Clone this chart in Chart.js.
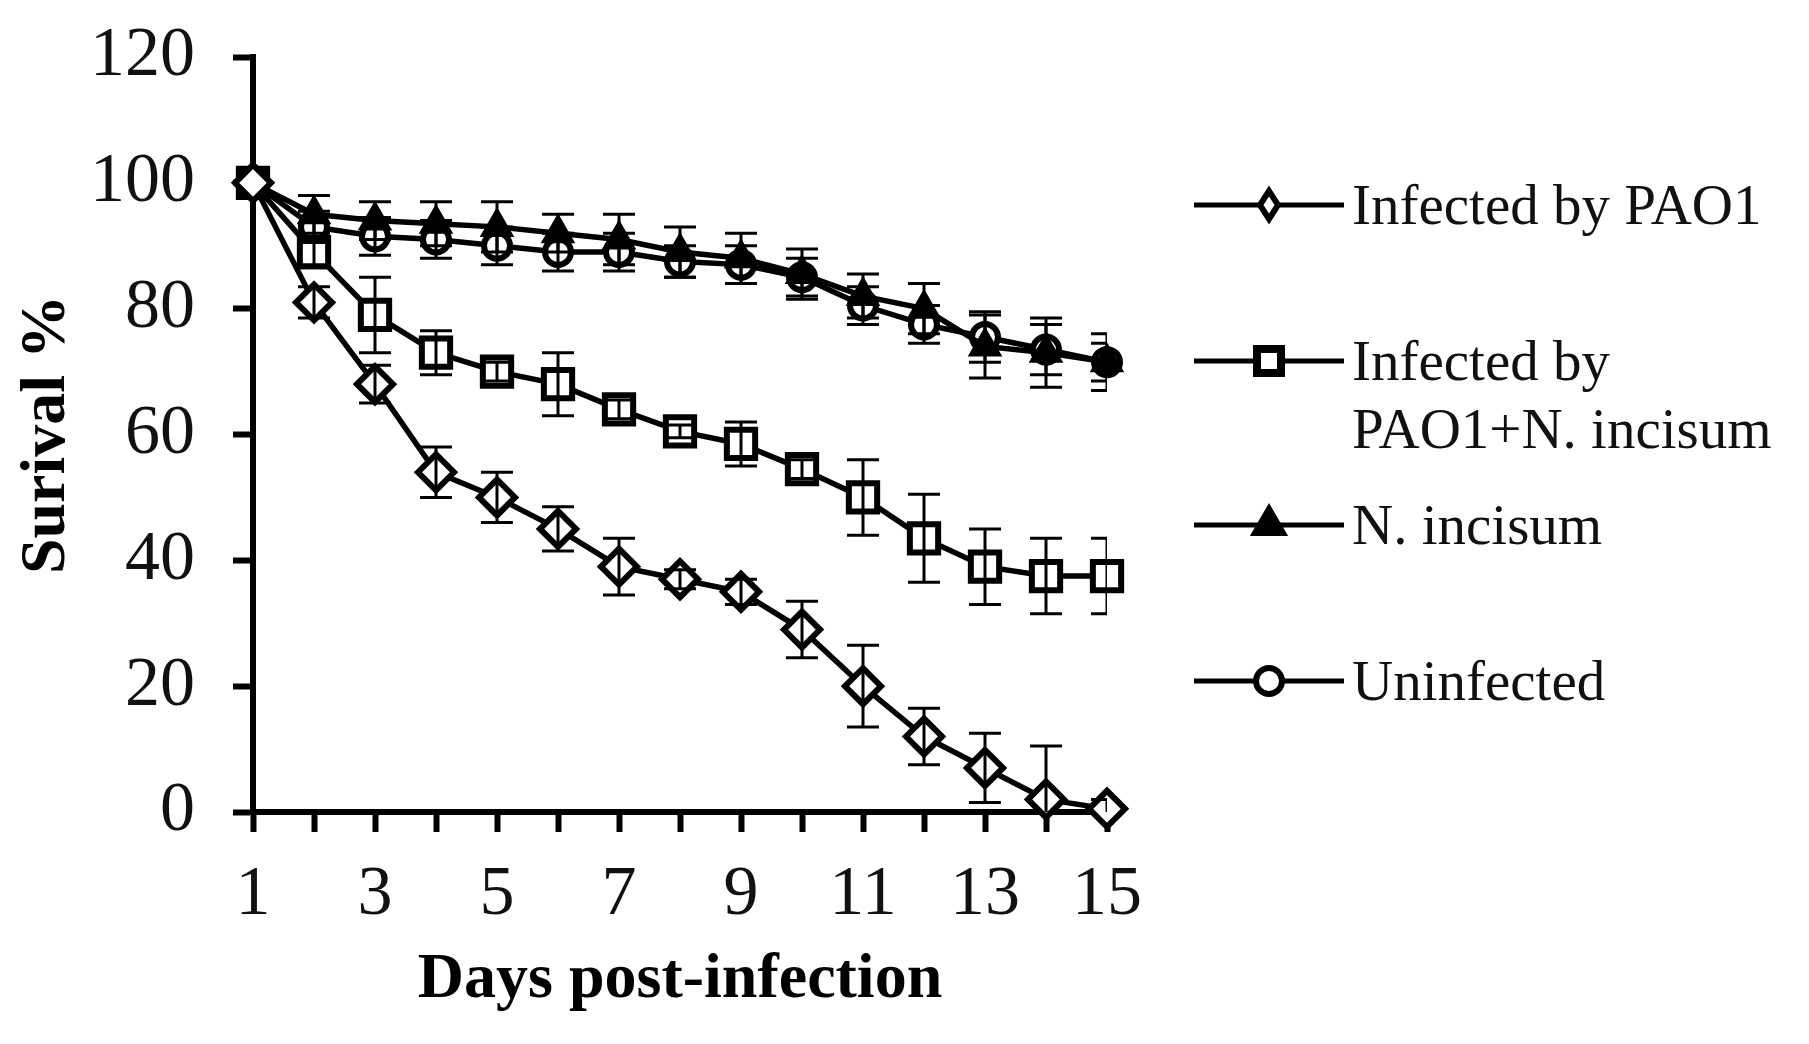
<!DOCTYPE html>
<html>
<head>
<meta charset="utf-8">
<title>Survival % - days post-infection</title>
<script src="https://cdn.jsdelivr.net/npm/chart.js@4.4.1/dist/chart.umd.min.js"></script>
<style>
  html, body { margin: 0; padding: 0; background: #fff; }
  #wrap { width: 1809px; height: 1044px; position: relative; }
</style>
</head>
<body>
<div id="wrap"><canvas id="survivalChart"></canvas></div>
<script>
// ---- data ----
const days = [1, 2, 3, 4, 5, 6, 7, 8, 9, 10, 11, 12, 13, 14, 15];

const pao1      = [100, 81, 68, 54, 50, 45, 39, 37, 35, 29, 20, 12, 7, 2, 0.5];
const pao1Err   = [0, 2.5, 3, 4, 4, 3.5, 4.5, 1.5, 2, 4.5, 6.5, 4.5, 5.5, 8.5, 1.5];

const pao1Ni    = [100, 89, 79, 73, 70, 68, 64, 60.5, 58.5, 54.5, 50, 43.5, 39, 37.5, 37.5];
const pao1NiErr = [0, 2.5, 6, 3.5, 1.5, 5, 1.5, 1, 3.5, 1.5, 6, 7, 6, 6, 6];

const nIncisum    = [100, 95, 94, 93.5, 93, 92, 91, 89, 88, 85.5, 82, 80, 74, 73, 71.5];
const nIncisumErr = [0, 3, 3, 3.5, 4, 3, 4, 4, 4, 4, 3.5, 4, 5, 5.5, 4.5];

const uninfected    = [100, 93, 91.5, 91, 90, 89, 89, 87.5, 87, 85, 80.5, 77.5, 75.5, 73.5, 71.5];
const uninfectedErr = [0, 2.5, 3, 3, 3, 3, 3, 2.5, 3, 3, 3, 3, 4, 4, 3];

const seriesLabels = [["Infected by PAO1"], ["Infected by", "PAO1+N. incisum"], ["N. incisum"], ["Uninfected"]];
const xTickLabels = ["1", "3", "5", "7", "9", "11", "13", "15"];

const SERIF = '"Liberation Serif", "Times New Roman", serif';

// error bars, drawn through the chart's own scales
const errorBars = {
  id: "errorBars",
  afterDatasetsDraw(chart) {
    const { ctx, chartArea, scales } = chart;
    ctx.save();
    ctx.beginPath();
    ctx.rect(chartArea.left, chartArea.top, chartArea.right - chartArea.left, chartArea.bottom - chartArea.top);
    ctx.clip();
    ctx.strokeStyle = "#000";
    ctx.lineWidth = 3;
    chart.data.datasets.forEach(ds => {
      if (!ds.errors) return;
      ds.data.forEach((v, i) => {
        const e = ds.errors[i];
        if (!e) return;
        const px = scales.x.getPixelForValue(i);
        const top = scales.y.getPixelForValue(v + e);
        const bot = scales.y.getPixelForValue(v - e);
        ctx.beginPath();
        ctx.moveTo(px, top); ctx.lineTo(px, bot);
        ctx.moveTo(px - 16, top); ctx.lineTo(px + 16, top);
        ctx.moveTo(px - 16, bot); ctx.lineTo(px + 16, bot);
        ctx.stroke();
      });
    });
    ctx.restore();
  }
};

function legendMarker(ctx, style, x, y) {
  ctx.beginPath();
  if (style === "rectRot") {
    ctx.moveTo(x, y - 14); ctx.lineTo(x + 9, y); ctx.lineTo(x, y + 14); ctx.lineTo(x - 9, y); ctx.closePath();
    ctx.fillStyle = "#fff"; ctx.fill(); ctx.lineWidth = 6; ctx.stroke();
  } else if (style === "rect") {
    const s = 12;
    ctx.rect(x - s, y - s, 2 * s, 2 * s);
    ctx.fillStyle = "#fff"; ctx.fill(); ctx.lineWidth = 8; ctx.stroke();
  } else if (style === "triangle") {
    const r = 19;
    ctx.moveTo(x, y - r); ctx.lineTo(x + r * 0.87, y + r * 0.5); ctx.lineTo(x - r * 0.87, y + r * 0.5); ctx.closePath();
    ctx.fillStyle = "#000"; ctx.fill(); ctx.lineWidth = 3; ctx.stroke();
  } else {
    ctx.arc(x, y, 13, 0, Math.PI * 2);
    ctx.fillStyle = "#fff"; ctx.fill(); ctx.lineWidth = 6; ctx.stroke();
  }
}

// legend on the right, laid out like the figure
const sideLegend = {
  id: "sideLegend",
  afterDraw(chart) {
    const ctx = chart.ctx;
    const rows = [205, 361, 525, 681];
    ctx.save();
    ctx.strokeStyle = "#000";
    chart.data.datasets.forEach((ds, i) => {
      const y = rows[i];
      ctx.beginPath();
      ctx.lineWidth = 5;
      ctx.moveTo(1194, y); ctx.lineTo(1344, y);
      ctx.stroke();
      legendMarker(ctx, ds.pointStyle, 1269, y);
      ctx.fillStyle = "#111";
      ctx.font = "57px " + SERIF;
      ctx.textBaseline = "alphabetic";
      seriesLabels[i].forEach((line, k) => {
        ctx.fillText(line, 1352, y + 19 + k * 68);
      });
    });
    ctx.restore();
  }
};

const base = {
  borderColor: "#000",
  borderWidth: 5.5,
  pointBorderColor: "#000",
  pointBorderWidth: 6,
  pointHoverRadius: 0,
  tension: 0,
  clip: false
};

new Chart(document.getElementById("survivalChart"), {
  type: "line",
  data: {
    labels: days,
    datasets: [
      { ...base, label: "Infected by PAO1", data: pao1, errors: pao1Err,
        pointStyle: "rectRot", pointRadius: 18, pointBackgroundColor: "#fff" },
      { ...base, label: "Infected by PAO1+N. incisum", data: pao1Ni, errors: pao1NiErr,
        pointStyle: "rect", pointRadius: 20, pointBackgroundColor: "#fff" },
      { ...base, label: "N. incisum", data: nIncisum, errors: nIncisumErr,
        pointStyle: "triangle", pointRadius: 17, pointBackgroundColor: "#000", pointBorderWidth: 3 },
      { ...base, label: "Uninfected", data: uninfected, errors: uninfectedErr,
        pointStyle: "circle", pointRadius: 13, pointBackgroundColor: "#fff" }
    ]
  },
  options: {
    responsive: true,
    maintainAspectRatio: false,
    animation: false,
    layout: { padding: { top: 57, right: 702, left: 0, bottom: 0 } },
    plugins: {
      legend: { display: false },
      tooltip: { enabled: false }
    },
    scales: {
      x: {
        type: "category",
        offset: false,
        afterFit(scale) { scale.height = 232; },
        border: { display: true, color: "#000", width: 6 },
        grid: { display: true, drawOnChartArea: false, drawTicks: true, tickLength: 20, tickWidth: 6, tickColor: "#000" },
        ticks: {
          autoSkip: false,
          maxRotation: 0,
          padding: 22,
          color: "#111",
          font: { family: SERIF, size: 70 },
          callback(val, idx) {
            const lbl = String(days[idx]);
            return xTickLabels.includes(lbl) ? lbl : "";
          }
        },
        title: {
          display: true,
          text: "Days post-infection",
          color: "#000",
          font: { family: SERIF, size: 64, weight: "bold" },
          padding: { top: 0, bottom: 25 }
        }
      },
      y: {
        min: 0,
        max: 120,
        afterFit(scale) {
          scale.width = 253;
          scale.paddingTop = 0;
          scale.paddingBottom = 0;
        },
        border: { display: true, color: "#000", width: 6 },
        grid: { display: true, drawOnChartArea: false, drawTicks: true, tickLength: 20, tickWidth: 6, tickColor: "#000" },
        ticks: {
          stepSize: 20,
          padding: 38,
          color: "#111",
          font: { family: SERIF, size: 70 }
        },
        title: {
          display: true,
          text: "Surival %",
          color: "#000",
          font: { family: SERIF, size: 64, weight: "bold" },
          padding: { top: 9, bottom: 0 }
        }
      }
    }
  },
  plugins: [errorBars, sideLegend]
});
</script>
</body>
</html>
